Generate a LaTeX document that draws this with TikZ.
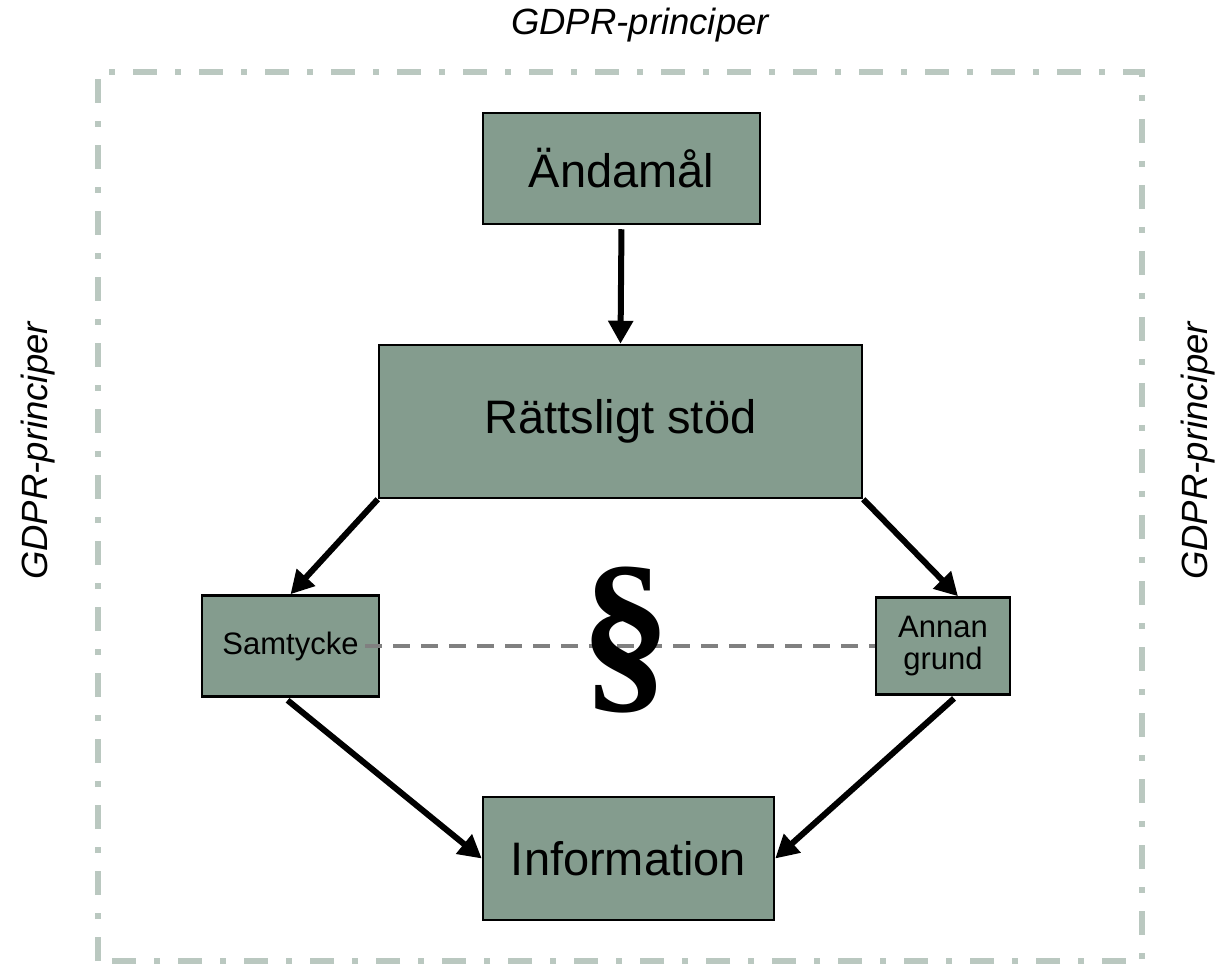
\documentclass[tikz,border=0pt]{standalone}
\usepackage{fontspec}
\setmainfont{Liberation Sans}
\newfontfamily\serifbf{Liberation Serif}
\usetikzlibrary{arrows.meta,calc}
\definecolor{boxfill}{RGB}{132,156,142}
\definecolor{framecol}{RGB}{186,200,192}
\definecolor{linkgray}{RGB}{128,128,128}
\tikzset{
  box/.style={draw=black, line width=2.5pt, fill=boxfill, inner sep=0pt, align=center},
  bigtext/.style={font=\fontsize{47}{52}\selectfont},
  smalltext/.style={font=\fontsize{31}{36}\selectfont},
  sidelabel/.style={font=\fontsize{36.5}{40}\selectfont\itshape},
  flow/.style={line width=6pt, -{Triangle[length=23pt,width=24pt]}},
  frameline/.style={draw=framecol, line width=6pt, dash pattern=on 24pt off 18pt on 6pt off 18pt},
}
\begin{document}
\begin{tikzpicture}[x=1pt,y=-1pt]
\useasboundingbox (0,0) rectangle (1219,965);
\draw[frameline] (98,961) -- (98,72) -- (1142,72) -- (1142,961) -- cycle;
\node[sidelabel] (top) at (640,25) {GDPR-principer};
\node[sidelabel, rotate=90] (left) at (38,451) {GDPR-principer};
\node[sidelabel, rotate=90] (right) at (1198,451) {GDPR-principer};

\node[box, bigtext, minimum width=277pt, minimum height=111pt] (a) at (621.5,168.5) {Ändamål};
\node[box, bigtext, minimum width=483pt, minimum height=153pt] (r) at (620.5,421.5) {Rättsligt stöd};
\node[box, smalltext, minimum width=177pt, minimum height=101pt] (s) at (290.5,646) {Samtycke};
\node[box, smalltext, minimum width=134pt, minimum height=97pt] (g) at (943,646) {Annan\\[-4pt]grund};
\node[box, bigtext, minimum width=291pt, minimum height=123pt] (i) at (628.5,858.5) {Information};

\coordinate (sline) at ($(s.east)+(-15,0)$);
\draw[linkgray, line width=4pt, dash pattern=on 17pt off 11pt] (sline) -- (g.west);

\node[font=\fontsize{182}{182}\selectfont\serifbf\bfseries] (para) at (626,640) {§};

\coordinate (gtip) at ($(g.north)+(15,0)$);
\coordinate (sout) at ($(s.south)+(-6,0)$);
\coordinate (gout) at ($(g.south)+(14,0)$);
\draw[flow, shorten <=4pt] (a.south) -- (r.north);
\draw[flow] (r.south west) -- (s.north);
\draw[flow] (r.south east) -- (gtip);
\draw[flow, shorten <=4pt] (sout) -- (i.west);
\draw[flow, shorten <=4pt] (gout) -- (i.east);
\end{tikzpicture}
\end{document}
